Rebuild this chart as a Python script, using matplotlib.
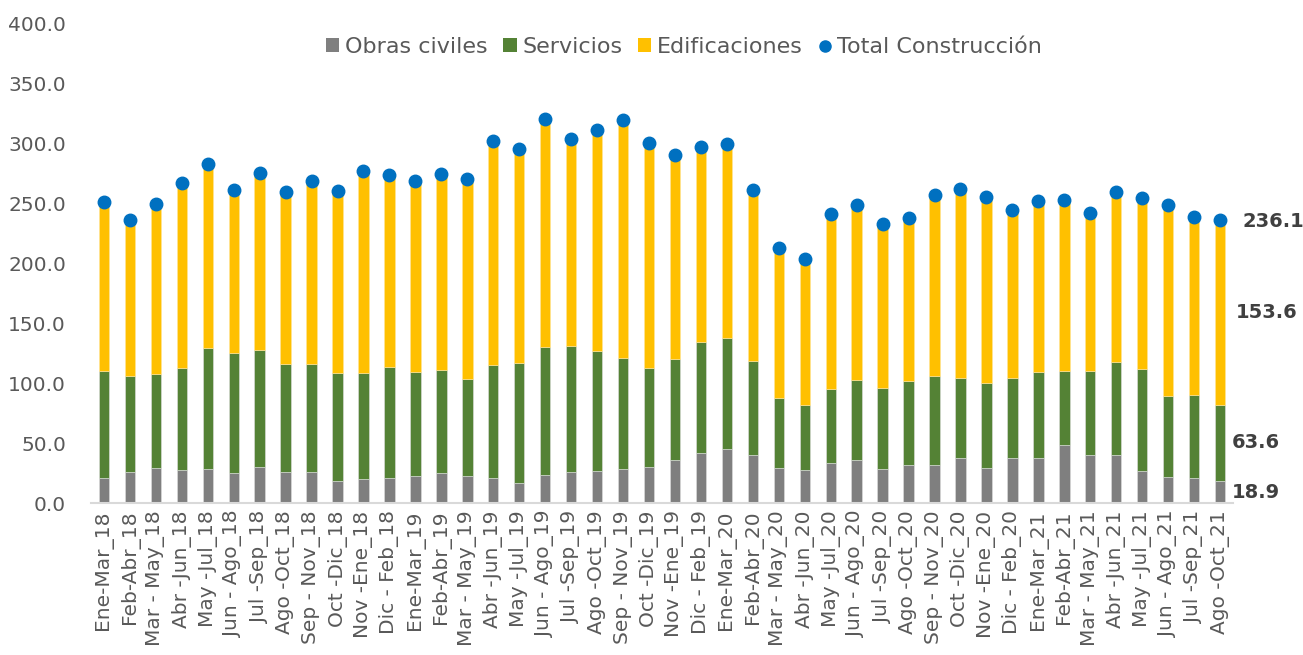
from __future__ import annotations

import numpy as np
from matplotlib import pyplot as plt
from matplotlib.lines import Line2D
from matplotlib.patches import Patch

PERIODS = [
    "Ene-Mar_18", "Feb-Abr_18", "Mar - May_18", "Abr -Jun_18", "May -Jul_18", "Jun - Ago_18",
    "Jul -Sep_18", "Ago -Oct_18", "Sep - Nov_18", "Oct -Dic_18", "Nov -Ene_18", "Dic - Feb_18",
    "Ene-Mar_19", "Feb-Abr_19", "Mar - May_19", "Abr -Jun_19", "May -Jul_19", "Jun - Ago_19",
    "Jul -Sep_19", "Ago -Oct_19", "Sep - Nov_19", "Oct -Dic_19", "Nov -Ene_19", "Dic - Feb_19",
    "Ene-Mar_20", "Feb-Abr_20", "Mar - May_20", "Abr -Jun_20", "May -Jul_20", "Jun - Ago_20",
    "Jul -Sep_20", "Ago -Oct_20", "Sep - Nov_20", "Oct -Dic_20", "Nov -Ene_20", "Dic - Feb_20",
    "Ene-Mar_21", "Feb-Abr_21", "Mar - May_21", "Abr -Jun_21", "May -Jul_21", "Jun - Ago_21",
    "Jul -Sep_21", "Ago -Oct_21",
]

OBRAS_CIVILES = [
    21.0, 26.2, 29.6, 27.9, 28.8, 25.7, 30.1, 26.2, 26.2, 19.0, 20.1, 21.2,
    22.9, 25.1, 22.6, 21.2, 17.1, 23.7, 26.2, 27.1, 28.8, 30.4, 36.2, 42.1,
    45.7, 40.4, 29.6, 27.9, 33.7, 36.2, 28.8, 32.4, 32.4, 37.9, 29.6, 37.9,
    37.9, 48.8, 40.4, 40.4, 27.1, 22.1, 21.0, 18.9,
]
SERVICIOS = [
    89.7, 80.3, 78.6, 85.3, 100.8, 100.0, 98.1, 90.1, 90.1, 89.5, 88.4, 92.3,
    87.0, 86.4, 81.4, 94.2, 100.3, 106.7, 105.3, 100.3, 92.7, 82.8, 83.9, 92.2,
    92.5, 78.6, 58.6, 54.5, 61.4, 66.4, 67.5, 70.0, 74.1, 67.0, 70.8, 67.0,
    72.0, 61.9, 70.0, 77.5, 84.7, 67.8, 69.7, 63.6,
]
EDIFICACIONES = [
    140.3, 129.5, 141.7, 153.9, 153.6, 135.6, 147.5, 143.0, 152.2, 151.9, 168.6, 160.3,
    159.1, 163.4, 166.7, 186.4, 177.7, 190.0, 172.2, 184.1, 198.4, 187.5, 170.6, 162.8,
    161.1, 142.5, 124.7, 121.6, 145.9, 145.9, 136.9, 135.5, 150.3, 156.9, 154.7, 139.7,
    142.2, 141.9, 132.0, 142.0, 143.1, 158.6, 148.3, 153.6,
]

SERIES_NAMES = ["Obras civiles", "Servicios", "Edificaciones", "Total Construcción"]
COLORS = ["#7F7F7F", "#548235", "#FFC000", "#0070C0"]
TEXT_COLOR = "#595959"

plt.rcParams["font.family"] = ["DejaVu Sans"]

obras = np.array(OBRAS_CIVILES)
servicios = np.array(SERVICIOS)
edificaciones = np.array(EDIFICACIONES)
total = obras + servicios + edificaciones
x = np.arange(len(PERIODS))

fig = plt.figure(figsize=(13.03, 6.55), dpi=100)
ax = fig.add_axes([0.0698, 0.2313, 0.8765, 0.7328])

width = 0.4
ax.bar(x, obras, width, color=COLORS[0], edgecolor="#E0E0E0", linewidth=0.4)
ax.bar(x, servicios, width, bottom=obras, color=COLORS[1], edgecolor="#E0E0E0", linewidth=0.4)
ax.bar(x, edificaciones, width, bottom=obras + servicios, color=COLORS[2], edgecolor="#FFE699", linewidth=0.4)
ax.plot(x, total, linestyle="none", marker="o", markersize=9, color=COLORS[3], zorder=3)

# data labels for the last period
last = len(PERIODS) - 1
label_kw = dict(ha="left", va="center", fontsize=14, fontweight="bold", color="#404040", clip_on=False)
ax.text(last + 0.45, obras[last] / 2, f"{obras[last]:.1f}", **label_kw)
ax.text(last + 0.45, obras[last] + servicios[last] / 2, f"{servicios[last]:.1f}", **label_kw)
ax.text(last + 0.6, obras[last] + servicios[last] + edificaciones[last] / 2, f"{edificaciones[last]:.1f}", **label_kw)
ax.text(last + 0.85, total[last] - 1.5, f"{total[last]:.1f}", **label_kw)

ax.set_xlim(-0.5, len(PERIODS) - 0.5)
ax.set_ylim(0, 400)
ax.set_yticks(np.arange(0, 401, 50))
ax.set_yticklabels([f"{v:.1f}" for v in np.arange(0, 401, 50)])
ax.set_xticks(x)
ax.set_xticklabels(PERIODS, rotation=90)
ax.tick_params(axis="both", length=0, labelsize=14.5, labelcolor=TEXT_COLOR)
ax.tick_params(axis="x", pad=5)
ax.tick_params(axis="y", pad=18)

for side in ("top", "right", "left"):
    ax.spines[side].set_visible(False)
ax.spines["bottom"].set_color("#D9D9D9")
ax.spines["bottom"].set_linewidth(1.5)

handles = [
    Patch(facecolor=COLORS[0]),
    Patch(facecolor=COLORS[1]),
    Patch(facecolor=COLORS[2]),
    Line2D([], [], linestyle="none", marker="o", markersize=8, color=COLORS[3]),
]
fig.legend(handles, SERIES_NAMES, loc="center", bbox_to_anchor=(684 / 1303, 1 - 47 / 655), ncol=4,
           frameon=False, fontsize=16, labelcolor=TEXT_COLOR, handlelength=0.6, handleheight=0.6,
           handletextpad=0.25, columnspacing=0.7)

fig.savefig("out.png", dpi=100)
